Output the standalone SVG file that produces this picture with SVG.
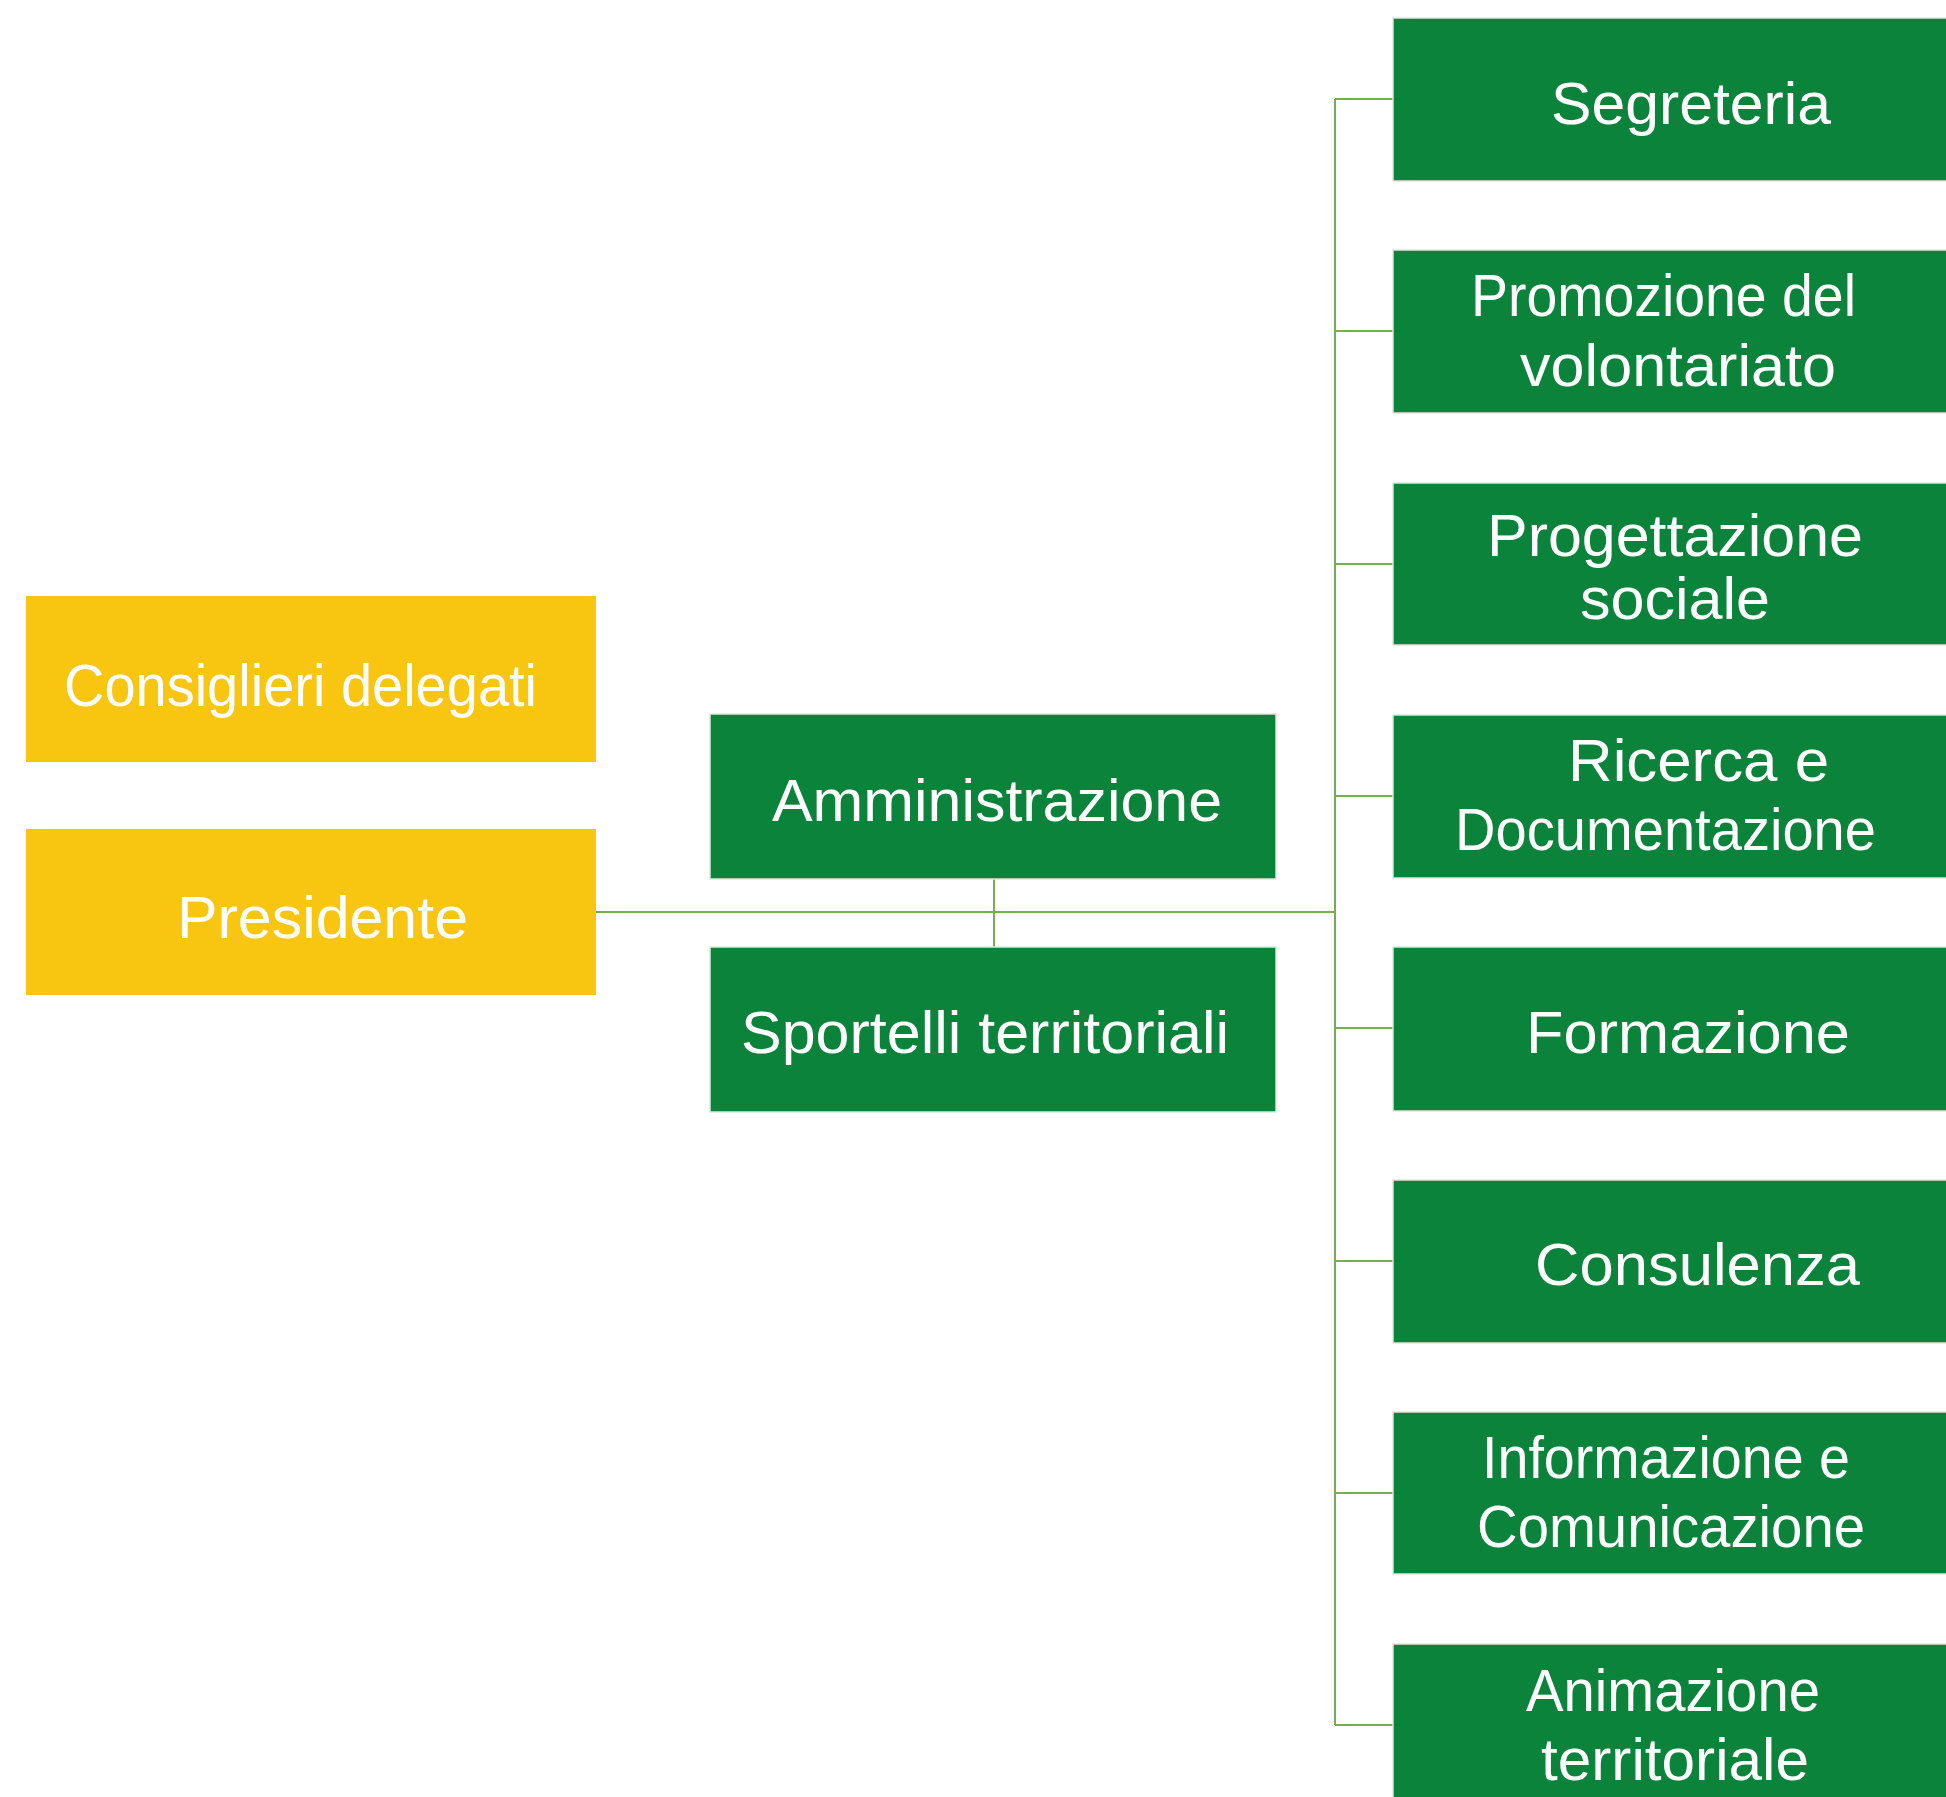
<svg xmlns="http://www.w3.org/2000/svg" width="1946" height="1797" viewBox="0 0 1946 1797">
<style>
.y{fill:#F8C511}
.g{fill:#0C833A;stroke:#DCE9DF;stroke-width:1.5}
.t{fill:#FFFFFF;font-family:"Liberation Sans",Arial,sans-serif;font-size:60px}
.c{stroke:#74AF4C;stroke-width:2;fill:none}
</style>
<rect width="1946" height="1797" fill="#FFFFFF"/>
<g id="connectors">
<line class="c" x1="596" y1="912" x2="1335" y2="912"/>
<line class="c" x1="994" y1="879" x2="994" y2="947"/>
<line class="c" x1="1335" y1="99" x2="1335" y2="1725"/>
<line class="c" x1="1335" y1="99" x2="1393" y2="99"/>
<line class="c" x1="1335" y1="331" x2="1393" y2="331"/>
<line class="c" x1="1335" y1="564" x2="1393" y2="564"/>
<line class="c" x1="1335" y1="796" x2="1393" y2="796"/>
<line class="c" x1="1335" y1="1028" x2="1393" y2="1028"/>
<line class="c" x1="1335" y1="1261" x2="1393" y2="1261"/>
<line class="c" x1="1335" y1="1493" x2="1393" y2="1493"/>
<line class="c" x1="1335" y1="1725" x2="1393" y2="1725"/>
</g>
<g id="consiglieri">
<rect class="y" x="26" y="596" width="570" height="166"/>
<text class="t" x="64" y="706" textLength="473" lengthAdjust="spacingAndGlyphs">Consiglieri delegati</text>
</g>
<g id="presidente">
<rect class="y" x="26" y="829" width="570" height="166"/>
<text class="t" x="177" y="938" textLength="291" lengthAdjust="spacingAndGlyphs">Presidente</text>
</g>
<g id="amministrazione">
<rect class="g" x="710" y="714" width="566" height="165"/>
<text class="t" x="772" y="821" textLength="450" lengthAdjust="spacingAndGlyphs">Amministrazione</text>
</g>
<g id="sportelli">
<rect class="g" x="710" y="947" width="566" height="165"/>
<text class="t" x="741" y="1053" textLength="488" lengthAdjust="spacingAndGlyphs">Sportelli territoriali</text>
</g>
<g id="segreteria">
<rect class="g" x="1393" y="18" width="570" height="163"/>
<text class="t" x="1551" y="124" textLength="280" lengthAdjust="spacingAndGlyphs">Segreteria</text>
</g>
<g id="promozione">
<rect class="g" x="1393" y="250" width="570" height="163"/>
<text class="t" x="1471" y="316" textLength="385" lengthAdjust="spacingAndGlyphs">Promozione del</text>
<text class="t" x="1520" y="386" textLength="316" lengthAdjust="spacingAndGlyphs">volontariato</text>
</g>
<g id="progettazione">
<rect class="g" x="1393" y="483" width="570" height="162"/>
<text class="t" x="1487" y="556" textLength="376" lengthAdjust="spacingAndGlyphs">Progettazione</text>
<text class="t" x="1580" y="619" textLength="190" lengthAdjust="spacingAndGlyphs">sociale</text>
</g>
<g id="ricerca">
<rect class="g" x="1393" y="715" width="570" height="163"/>
<text class="t" x="1568" y="781" textLength="261" lengthAdjust="spacingAndGlyphs">Ricerca e</text>
<text class="t" x="1455" y="850" textLength="421" lengthAdjust="spacingAndGlyphs">Documentazione</text>
</g>
<g id="formazione">
<rect class="g" x="1393" y="947" width="570" height="164"/>
<text class="t" x="1526" y="1053" textLength="324" lengthAdjust="spacingAndGlyphs">Formazione</text>
</g>
<g id="consulenza">
<rect class="g" x="1393" y="1180" width="570" height="163"/>
<text class="t" x="1535" y="1285" textLength="325" lengthAdjust="spacingAndGlyphs">Consulenza</text>
</g>
<g id="informazione">
<rect class="g" x="1393" y="1412" width="570" height="162"/>
<text class="t" x="1482" y="1478" textLength="368" lengthAdjust="spacingAndGlyphs">Informazione e</text>
<text class="t" x="1477" y="1547" textLength="388" lengthAdjust="spacingAndGlyphs">Comunicazione</text>
</g>
<g id="animazione">
<rect class="g" x="1393" y="1644" width="570" height="170"/>
<text class="t" x="1526" y="1711" textLength="294" lengthAdjust="spacingAndGlyphs">Animazione</text>
<text class="t" x="1541" y="1780" textLength="268" lengthAdjust="spacingAndGlyphs">territoriale</text>
</g>
</svg>
